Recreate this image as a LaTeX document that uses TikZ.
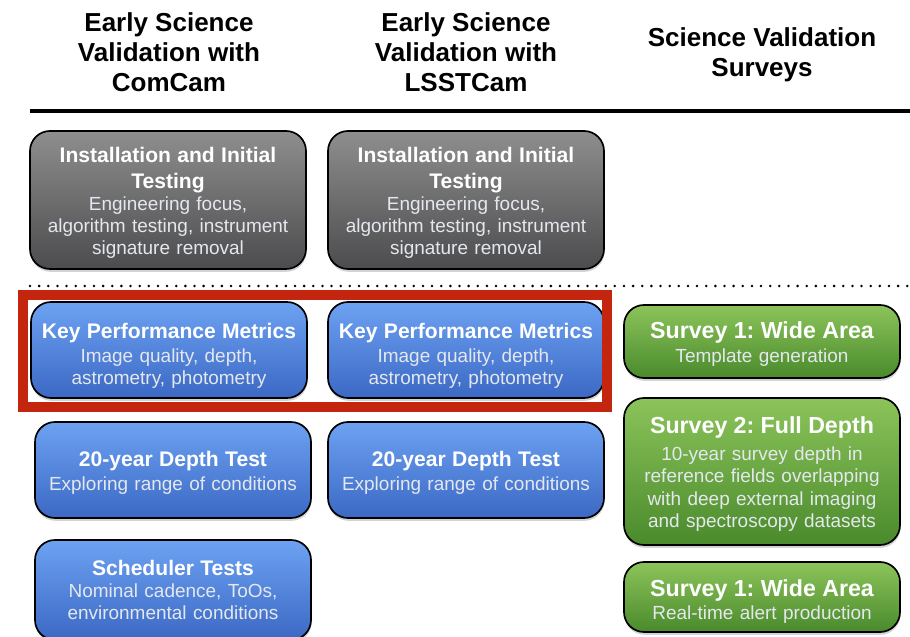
\documentclass[tikz,border=0pt]{standalone}
\usepackage{fontspec}
\setmainfont{Liberation Sans}
\usetikzlibrary{shadows}
\frenchspacing
\definecolor{grytop}{HTML}{8E8E8E}
\definecolor{grybot}{HTML}{4C4C4E}
\definecolor{blutop}{HTML}{6DA2F2}
\definecolor{blubot}{HTML}{3B68C4}
\definecolor{grntop}{HTML}{8CC45A}
\definecolor{grnbot}{HTML}{4A8A2C}
\definecolor{hilite}{HTML}{C4250F}
\definecolor{subtxt}{HTML}{E4E8EE}
\newcommand{\hdrfont}{\fontsize{18.5}{21.3}\selectfont\bfseries}
\newcommand{\ttlfont}{\fontsize{15}{18.5}\selectfont\bfseries}
\newcommand{\sgtfont}{\fontsize{16.5}{19}\selectfont\bfseries}
\newcommand{\subfont}{\fontsize{13.5}{15.8}\selectfont}
\newcommand{\boxttl}[3]{{\color{white}#1\rule{0pt}{#2}#3}}
\begin{document}
\begin{tikzpicture}[
		box/.style={draw=black,line width=1.2pt,rounded corners=0.5cm,align=center,text=subtxt,
			minimum width=6.9cm,text width=6.6cm,font=\subfont,
			drop shadow={shadow xshift=0.3pt,shadow yshift=-2pt,opacity=0.35}},
		gbox/.style={box,top color=grytop,bottom color=grybot},
		bbox/.style={box,top color=blutop,bottom color=blubot},
		sbox/.style={box,top color=grntop,bottom color=grnbot,font=\fontsize{13.5}{16}\selectfont},
		hdr/.style={align=center,font=\hdrfont}
	]
	\clip (0,0) rectangle (22.75,15.9);
	\node[hdr] (hdrcom) at (4.225,14.6) {Early Science\\Validation with\\ComCam};
	\node[hdr] (hdrlsst) at (11.65,14.6) {Early Science\\Validation with\\LSSTCam};
	\node[hdr] (hdrsv) at (19.05,14.53) {Science Validation\\Surveys};
	\coordinate (rulel) at (0.75,13.125);
	\coordinate (ruler) at (22.75,13.125);
	\draw[line width=3.5pt] (rulel) -- (ruler);
	\node[gbox,minimum height=3.45cm] (inscom) at (4.2,10.9) {{\color{white}\ttlfont\rule{0pt}{15pt}Installation and Initial\\Testing\par}Engineering focus,\\algorithm testing, instrument\\signature removal};
	\node[gbox,minimum height=3.45cm] (inslsst) at (11.65,10.9) {{\color{white}\ttlfont\rule{0pt}{15pt}Installation and Initial\\Testing\par}Engineering focus,\\algorithm testing, instrument\\signature removal};
	\coordinate (dotl) at (0.75,8.75);
	\coordinate (dotr) at (22.75,8.75);
	\draw[line width=2pt,dash pattern=on 0pt off 6.5pt,line cap=round] (dotl) -- (dotr);
	\node[bbox,minimum height=2.4cm] (kpmcom) at (4.225,7.15) {\boxttl{\ttlfont}{19pt}{Key Performance Metrics}\\[1.5pt]Image quality, depth,\\astrometry, photometry};
	\node[bbox,minimum height=2.4cm] (kpmlsst) at (11.65,7.15) {\boxttl{\ttlfont}{19pt}{Key Performance Metrics}\\[1.5pt]Image quality, depth,\\astrometry, photometry};
	\node[bbox,minimum height=2.4cm] (deepcom) at (4.325,4.15) {\boxttl{\ttlfont}{15pt}{20-year Depth Test}\\[1pt]Exploring range of conditions};
	\node[bbox,minimum height=2.4cm] (deeplsst) at (11.65,4.15) {\boxttl{\ttlfont}{15pt}{20-year Depth Test}\\[1pt]Exploring range of conditions};
	\node[bbox,minimum height=2.5cm] (schcom) at (4.325,1.15) {{\color{white}\ttlfont Scheduler Tests\par}Nominal cadence, ToOs,\\environmental conditions};
	\node[sbox,minimum height=1.825cm] (wide) at (19.05,7.3625) {\boxttl{\sgtfont}{16pt}{Survey 1: Wide Area}\\[1pt]Template generation};
	\node[sbox,minimum height=3.675cm] (full) at (19.05,4.1125) {\boxttl{\sgtfont}{16pt}{Survey 2: Full Depth}\\[3pt]10-year survey depth in\\reference fields overlapping\\with deep external imaging\\and spectroscopy datasets};
	\node[sbox,minimum height=1.75cm] (alert) at (19.05,0.975) {\boxttl{\sgtfont}{18.5pt}{Survey 1: Wide Area}\\[1pt]Real-time alert production};
	\draw[hilite,line width=0.25cm] (0.575,5.725) rectangle (15.175,8.525);
\end{tikzpicture}
\end{document}
